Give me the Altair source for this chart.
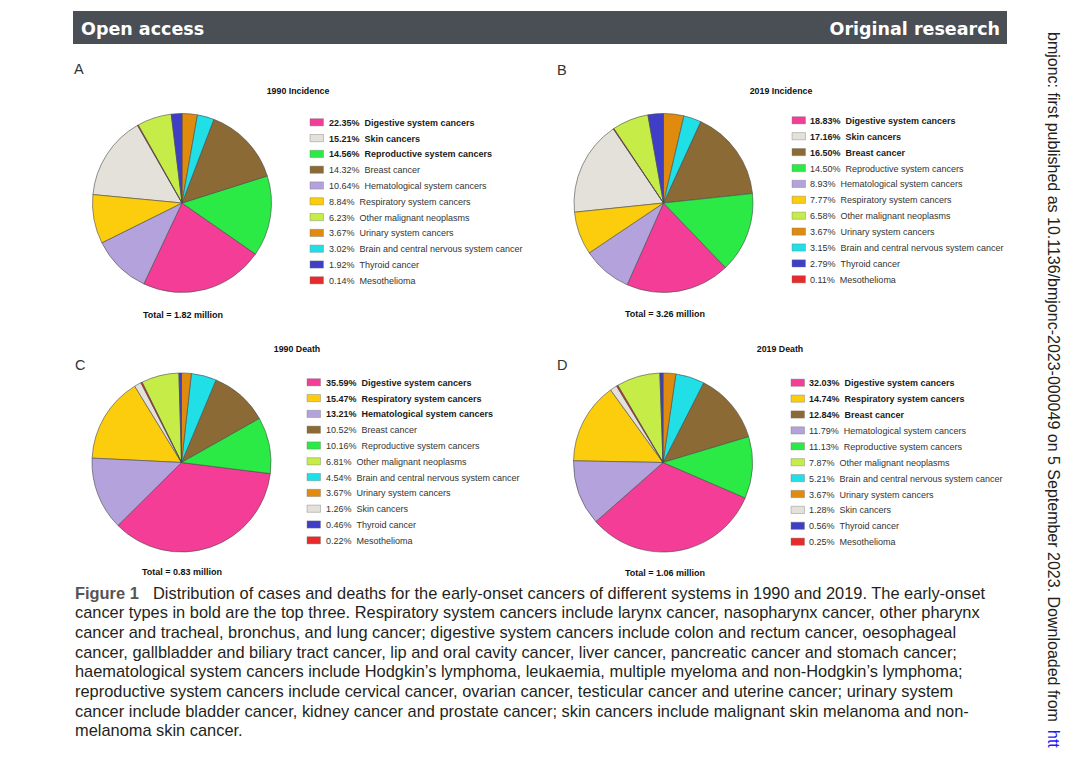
import altair as alt
import pandas as pd

# ---------------- data ----------------
categories = [
    "Digestive system cancers", "Skin cancers", "Reproductive system cancers",
    "Breast cancer", "Hematological system cancers", "Respiratory system cancers",
    "Other malignant neoplasms", "Urinary system cancers",
    "Brain and central nervous system cancer", "Thyroid cancer", "Mesothelioma",
]
cat_colors = [
    "#f43d96", "#e3e1d9", "#2bea45", "#8b6a35", "#b4a2dc", "#fccd0c",
    "#c6ec48", "#e08b0e", "#21dfe6", "#3e3fc6", "#e92a2a",
]
# slice order, clockwise from 12 o'clock
pie_order = [
    "Urinary system cancers", "Brain and central nervous system cancer",
    "Breast cancer", "Reproductive system cancers", "Digestive system cancers",
    "Hematological system cancers", "Respiratory system cancers", "Skin cancers",
    "Mesothelioma", "Other malignant neoplasms", "Thyroid cancer",
]

panel_letters = ["A", "B", "C", "D"]
panel_titles = ["1990 Incidence", "2019 Incidence", "1990 Death", "2019 Death"]
panel_totals = ["Total = 1.82 million", "Total = 3.26 million",
                "Total = 0.83 million", "Total = 1.06 million"]

inc1990_cats = ["Digestive system cancers", "Skin cancers", "Reproductive system cancers",
                "Breast cancer", "Hematological system cancers", "Respiratory system cancers",
                "Other malignant neoplasms", "Urinary system cancers",
                "Brain and central nervous system cancer", "Thyroid cancer", "Mesothelioma"]
inc1990_vals = [22.35, 15.21, 14.56, 14.32, 10.64, 8.84, 6.23, 3.67, 3.02, 1.92, 0.14]

inc2019_cats = ["Digestive system cancers", "Skin cancers", "Breast cancer",
                "Reproductive system cancers", "Hematological system cancers",
                "Respiratory system cancers", "Other malignant neoplasms",
                "Urinary system cancers", "Brain and central nervous system cancer",
                "Thyroid cancer", "Mesothelioma"]
inc2019_vals = [18.83, 17.16, 16.50, 14.50, 8.93, 7.77, 6.58, 3.67, 3.15, 2.79, 0.11]

dth1990_cats = ["Digestive system cancers", "Respiratory system cancers",
                "Hematological system cancers", "Breast cancer",
                "Reproductive system cancers", "Other malignant neoplasms",
                "Brain and central nervous system cancer", "Urinary system cancers",
                "Skin cancers", "Thyroid cancer", "Mesothelioma"]
dth1990_vals = [35.59, 15.47, 13.21, 10.52, 10.16, 6.81, 4.54, 3.67, 1.26, 0.46, 0.22]

dth2019_cats = ["Digestive system cancers", "Respiratory system cancers", "Breast cancer",
                "Hematological system cancers", "Reproductive system cancers",
                "Other malignant neoplasms", "Brain and central nervous system cancer",
                "Urinary system cancers", "Skin cancers", "Thyroid cancer", "Mesothelioma"]
dth2019_vals = [32.03, 14.74, 12.84, 11.79, 11.13, 7.87, 5.21, 3.67, 1.28, 0.56, 0.25]

# the urinary slice as actually drawn in each pie (legend prints 3.67% everywhere)
urinary_drawn = [2.77, 3.67, 1.76, 2.30]

panel_cats = [inc1990_cats, inc2019_cats, dth1990_cats, dth2019_cats]
panel_vals = [inc1990_vals, inc2019_vals, dth1990_vals, dth2019_vals]

caption_lines = [
    "Distribution of cases and deaths for the early-onset cancers of different systems in 1990 and 2019. The early-onset",
    "cancer types in bold are the top three. Respiratory system cancers include larynx cancer, nasopharynx cancer, other pharynx",
    "cancer and tracheal, bronchus, and lung cancer; digestive system cancers include colon and rectum cancer, oesophageal",
    "cancer, gallbladder and biliary tract cancer, lip and oral cavity cancer, liver cancer, pancreatic cancer and stomach cancer;",
    "haematological system cancers include Hodgkin\u2019s lymphoma, leukaemia, multiple myeloma and non-Hodgkin\u2019s lymphoma;",
    "reproductive system cancers include cervical cancer, ovarian cancer, testicular cancer and uterine cancer; urinary system",
    "cancer include bladder cancer, kidney cancer and prostate cancer; skin cancers include malignant skin melanoma and non-",
    "melanoma skin cancer.",
]
side_text = "bmjonc: first published as 10.1136/bmjonc-2023-000049 on 5 September 2023. Downloaded from"
side_link = "htt"

# ---------------- layout (page pixel coordinates) ----------------
W, H = 1064, 742
OFF = 8


def P(v):
    return v - OFF


layout = [
    dict(cx=182.0, cy=203.0, lx=74, ly=74, tx=298, ty=94, totx=183, toty=318,
         sq=310, txt=329, row0=122.3, dy=15.8),
    dict(cx=663.5, cy=203.0, lx=557, ly=75, tx=781, ty=94, totx=665, toty=317,
         sq=792, txt=810, row0=120.3, dy=15.9),
    dict(cx=181.5, cy=462.5, lx=75, ly=370, tx=297, ty=352, totx=182, toty=575,
         sq=307, txt=326, row0=382.3, dy=15.8),
    dict(cx=663.0, cy=462.5, lx=557, ly=370, tx=780, ty=352, totx=665, toty=576,
         sq=791, txt=809, row0=382.7, dy=15.9),
]
R = 89.5

xs = alt.Scale(domain=[0, W], range=[0, W])
ys = alt.Scale(domain=[0, H], range=[0, H])
cscale = alt.Scale(domain=categories, range=cat_colors)

one = pd.DataFrame({"k": [0]})


def txt(text, x, y, size, weight="normal", color="#222", align="left",
        font="Liberation Sans", angle=0, baseline="alphabetic"):
    return alt.Chart(one).mark_text(
        text=text, fontSize=size, fontWeight=weight, color=color, align=align,
        font=font, angle=angle, baseline=baseline,
    ).encode(x=alt.value(P(x)), y=alt.value(P(y)))


layers = []

# header bar
layers.append(alt.Chart(one).mark_rect(color="#4a4e55").encode(
    x=alt.value(P(73)), x2=alt.value(P(1007)), y=alt.value(P(11)), y2=alt.value(P(44))))
layers.append(txt("Open access", 81, 35, 17.5, "bold", "white", font="DejaVu Sans"))
layers.append(txt("Original research", 1000, 35, 17.5, "bold", "white", align="right",
                  font="DejaVu Sans"))

for i in range(4):
    L = layout[i]
    cats = panel_cats[i]
    vals = panel_vals[i]
    slice_vals = [urinary_drawn[i] if c == "Urinary system cancers" else v
                  for c, v in zip(cats, vals)]
    pie_df = pd.DataFrame({
        "cat": cats,
        "share": slice_vals,
        "ord": [pie_order.index(c) for c in cats],
    })
    layers.append(alt.Chart(pie_df).mark_arc(
        radius=R, stroke="#4a4a4a", strokeWidth=0.6
    ).encode(
        theta=alt.Theta("share:Q", stack="normalize"),
        order=alt.Order("ord:Q"),
        color=alt.Color("cat:N", scale=cscale, legend=None),
        x=alt.value(P(L["cx"])), y=alt.value(P(L["cy"])),
    ))

    rows = list(range(len(cats)))
    leg = pd.DataFrame({
        "cat": cats,
        "label": [f"{v:.2f}%\u00a0\u00a0{c}" for c, v in zip(cats, vals)],
        "bold": [r < 3 for r in rows],
        "yc": [P(L["row0"] + r * L["dy"]) for r in rows],
    })
    leg["y1"] = leg["yc"] - 3.6
    leg["y2"] = leg["yc"] + 3.6
    leg["x1"] = P(L["sq"])
    leg["x2"] = P(L["sq"] + 13.5)
    leg["tx"] = P(L["txt"])

    layers.append(alt.Chart(leg).mark_rect(stroke="#777", strokeWidth=0.4).encode(
        x=alt.X("x1:Q", scale=xs, axis=None), x2="x2:Q",
        y=alt.Y("y1:Q", scale=ys, axis=None), y2="y2:Q",
        color=alt.Color("cat:N", scale=cscale, legend=None),
    ))
    layers.append(alt.Chart(leg[leg["bold"]]).mark_text(
        align="left", baseline="middle", fontSize=9, fontWeight="bold",
        font="Liberation Sans", color="#1a1a1a", dy=0.5,
    ).encode(
        x=alt.X("tx:Q", scale=xs, axis=None), y=alt.Y("yc:Q", scale=ys, axis=None),
        text="label:N",
    ))
    layers.append(alt.Chart(leg[~leg["bold"]]).mark_text(
        align="left", baseline="middle", fontSize=9, fontWeight="normal",
        font="Liberation Sans", color="#333333", dy=0.5,
    ).encode(
        x=alt.X("tx:Q", scale=xs, axis=None), y=alt.Y("yc:Q", scale=ys, axis=None),
        text="label:N",
    ))

    layers.append(txt(panel_letters[i], L["lx"], L["ly"], 14.5, "normal", "#333"))
    layers.append(txt(panel_titles[i], L["tx"], L["ty"], 8.8, "bold", "#111", align="center"))
    layers.append(txt(panel_totals[i], L["totx"], L["toty"], 9, "bold", "#111", align="center"))

# caption
layers.append(txt("Figure 1", 75, 598.5, 16.4, "bold", "#555"))
for j, line in enumerate(caption_lines):
    x0 = 153 if j == 0 else 75
    layers.append(txt(line, x0, 598.5 + j * 19.68, 16.4, "normal", "#231f20"))

# side note (rotated)
layers.append(txt(side_text, 1053, 32, 16, "normal", "#231f20", angle=90,
                  baseline="middle"))
layers.append(txt(side_link, 1053, 730, 16, "normal", "#1a1aff", angle=90,
                  baseline="middle"))

chart = alt.layer(*layers).resolve_scale(theta="independent").properties(
    width=W, height=H,
    autosize=alt.AutoSizeParams(type="none"),
    padding=0,
    background="white",
).configure_view(stroke=None)

chart.save("out.html", embed_options={"renderer": "svg", "actions": False})
